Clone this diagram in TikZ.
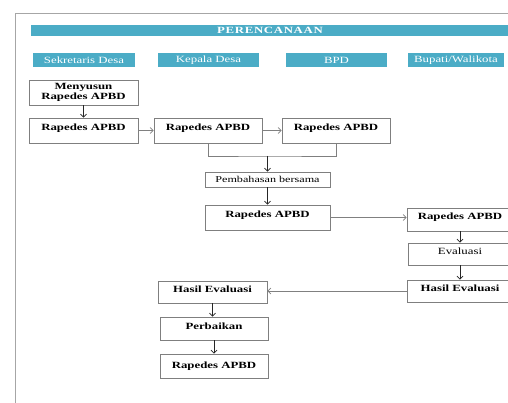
\documentclass[tikz,border=0pt]{standalone}
\usepackage{fontspec}
\setmainfont{Liberation Serif}[FakeStretch=1.35]
\usetikzlibrary{arrows.meta,shadows}
\definecolor{tealhdr}{HTML}{4BACC6}
\definecolor{boxline}{HTML}{7F7F7F}
\newcommand{\up}[1]{\raisebox{2.5pt}[\height][\depth]{#1}}
\begin{document}
\begin{tikzpicture}[x=1pt,y=-1pt,
  box/.style={draw=boxline, line width=0.6pt, inner sep=0pt, align=center,
    font=\fontsize{9.5}{10.5}\selectfont\bfseries},
  plainbox/.style={box, font=\fontsize{9.5}{10}\selectfont},
  hdr/.style={fill=tealhdr, draw=white, line width=1.2pt, text=white, inner sep=0pt,
    font=\fontsize{9.5}{10}\selectfont,
    drop shadow={opacity=0.3, shadow xshift=0.7pt, shadow yshift=-1pt}},
  varr/.style={-{Straight Barb[length=3pt,width=6pt]}, line width=0.8pt, black!85},
  harr/.style={-{Straight Barb[length=3pt,width=6pt]}, line width=0.7pt, gray},
  link/.style={line width=0.6pt, boxline},
  framestyle/.style={draw=gray!70, line width=0.8pt}]
\useasboundingbox (0,0) rectangle (508,403);
\clip (0,0) rectangle (508,403);
\fill[white] (0,0) rectangle (508,403);
\draw[framestyle] (15,410) -- (15,13) -- (515,13);

% header
\node[hdr, minimum width=480, minimum height=13, font=\fontsize{9.5}{10}\selectfont\bfseries\addfontfeature{LetterSpace=7}] (title) at (270,30.5) {PERENCANAAN};
\node[hdr, minimum width=104, minimum height=16] (sek) at (84,60) {Sekretaris Desa};
\node[hdr, minimum width=103, minimum height=16] (kep) at (208.5,60) {Kepala Desa};
\node[hdr, minimum width=103, minimum height=16] (bpd) at (336.5,60) {BPD};
\node[hdr, minimum width=98, minimum height=16] (bup) at (456,60) {Bupati/Walikota};

% boxes
\node[box, minimum width=109, minimum height=25] (mny) at (83.5,92.5) {Menyusun\\Rapedes APBD};
\node[box, minimum width=109, minimum height=25] (r1) at (83.5,130.5) {\up{Rapedes APBD}};
\node[box, minimum width=108, minimum height=25] (r2) at (208,130.5) {\up{Rapedes APBD}};
\node[box, minimum width=108, minimum height=25] (r3) at (336,130.5) {\up{Rapedes APBD}};
\node[plainbox, minimum width=125, minimum height=15, font=\fontsize{9}{10}\selectfont] (pemb) at (267.5,179.5) {Pembahasan bersama};
\node[box, minimum width=125, minimum height=25] (r4) at (267.5,217.5) {\up{Rapedes APBD}};
\node[box, minimum width=106, minimum height=23] (r5) at (460,219.5) {\up{Rapedes APBD}};
\node[plainbox, minimum width=104, minimum height=22] (eval) at (460,254) {\up{Evaluasi}};
\node[box, minimum width=106, minimum height=22] (hr) at (460,291) {\up{Hasil Evaluasi}};
\node[box, minimum width=109, minimum height=22] (hl) at (212.5,292) {\up{Hasil Evaluasi}};
\node[box, minimum width=108, minimum height=23] (perb) at (214,328.5) {\up{Perbaikan}};
\node[box, minimum width=108, minimum height=24] (rl) at (214,366) {Rapedes APBD};

% connectors
\coordinate (bm) at (267.5,156);
\draw[varr] (mny) -- (r1);
\draw[harr] (r1.east) -- (r2.west);
\draw[harr] (r2.east) -- (r3.west);
\draw[link] (r2.south) |- (bm) -| (r3.south);
\draw[varr] (bm) -- (pemb.north);
\draw[varr] (pemb) -- (r4);
\draw[harr] (r4.east) -- (r4.east -| r5.west);
\draw[varr] (r5) -- (eval);
\draw[varr] (eval) -- (hr);
\draw[harr] (hr.west) -- (hr.west -| hl.east);
\draw[varr] (hl.south) -- (hl.south |- perb.north);
\draw[varr] (perb) -- (rl);
\end{tikzpicture}
\end{document}
